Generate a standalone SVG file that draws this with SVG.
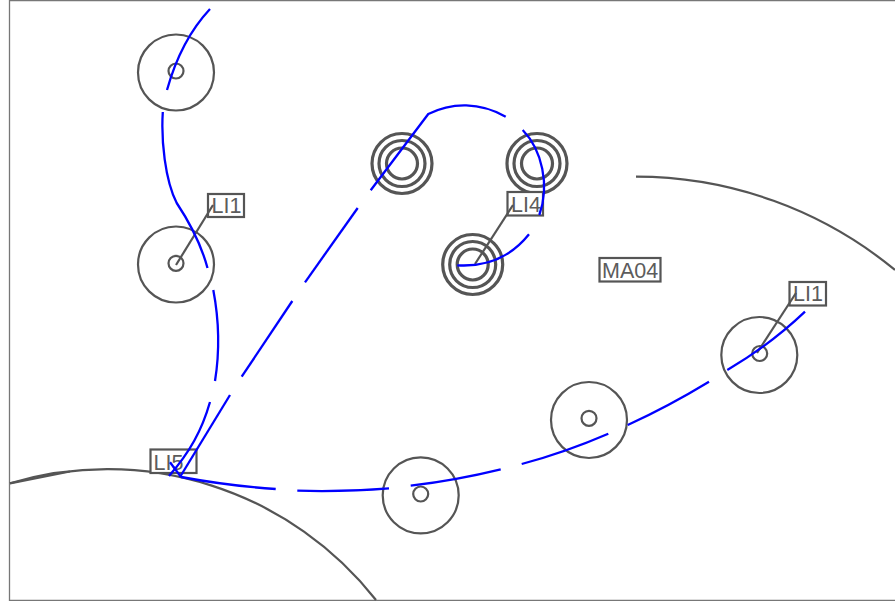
<svg xmlns="http://www.w3.org/2000/svg" width="895" height="601" viewBox="0 0 895 601">
<style>
.g{fill:none;stroke:#555;stroke-width:2.2}
.t{fill:none;stroke:#555;stroke-width:3.200}
.b{fill:none;stroke:#00f;stroke-width:2.300;stroke-linecap:butt}
.lb{fill:#fff;stroke:#555;stroke-width:2.200}
.l{fill:none;stroke:#555;stroke-width:2.200}
text{font-family:"Liberation Sans",Arial,sans-serif;font-size:21.500px;fill:#5c5c5c}
</style>
<rect width="895" height="601" fill="#fff"/>
<path d="M9.500 601V0.700H895" fill="none" stroke="#777" stroke-width="1.300"/>
<path d="M9.500 600.500H895" fill="none" stroke="#777" stroke-width="1.300"/>
<g id="outlines">
<path class="g" d="M636 176.700A407 407 0 0 1 895 270"/>
<path class="g" d="M10 483.300A341.700 341.700 0 0 1 376 600"/>
<path class="g" d="M10 483.300L70 471.500"/>
</g>
<g id="node-c1"><circle class="g" cx="176" cy="72.500" r="38"/><circle class="g" cx="176" cy="71" r="7.500"/></g>
<g id="node-c2"><circle class="g" cx="176" cy="264.500" r="38"/><circle class="g" cx="176" cy="263.300" r="7.500"/></g>
<g id="node-c3"><circle class="g" cx="759.300" cy="355" r="38"/><circle class="g" cx="759.700" cy="353.500" r="7.500"/></g>
<g id="node-c4"><circle class="g" cx="589" cy="420" r="38"/><circle class="g" cx="589" cy="418.300" r="7.500"/></g>
<g id="node-c5"><circle class="g" cx="420.700" cy="495.300" r="38"/><circle class="g" cx="420.700" cy="494" r="7.500"/></g>
<g id="node-t1"><circle class="t" cx="402" cy="163.500" r="30"/><circle class="t" cx="402" cy="163.500" r="23"/><circle class="t" cx="402" cy="163.500" r="15.500"/></g>
<g id="node-t2"><circle class="t" cx="537" cy="163.500" r="30"/><circle class="t" cx="537" cy="163.500" r="23"/><circle class="t" cx="537" cy="163.500" r="15.500"/></g>
<g id="node-t3"><circle class="t" cx="472.700" cy="264.500" r="30"/><circle class="t" cx="472.700" cy="264.500" r="23"/><circle class="t" cx="472.700" cy="264.500" r="15.500"/></g>
<g id="label-li1a"><rect class="lb" x="208" y="194" width="36" height="23"/><text x="211.500" y="213">LI1</text></g>
<g id="label-li4"><rect class="lb" x="507.500" y="192" width="35.500" height="23.500"/><text x="511" y="211.500">LI4</text></g>
<g id="label-li5"><rect class="lb" x="150.500" y="449.500" width="46" height="23.500"/><text x="153.500" y="469.500">LI5</text></g>
<g id="label-ma04"><rect class="lb" x="599.500" y="258" width="61" height="23.500"/><text x="602" y="278">MA04</text></g>
<g id="label-li1b"><rect class="lb" x="789.500" y="282" width="36.500" height="23.500"/><text x="793" y="301">LI1</text></g>
<g id="connectors">
<path class="l" d="M213 205L176 265"/>
<path class="l" d="M513 205L475 264"/>
<path class="l" d="M796 293L757 353"/>
<path class="b" d="M210 9Q181 40 167 90"/>
<path class="b" d="M162.800 112C161 140 165 180 176.700 203C186 217 200 240 207.500 268"/>
<path class="b" d="M213.300 290C219 320 220 350 215 381"/>
<path class="b" d="M210 402C202 430 190 452 169 476"/>
<path class="b" d="M230 395L180 477"/>
<path class="b" d="M241.700 376.700L292.300 301"/>
<path class="b" d="M305 282.300L357.700 208"/>
<path class="b" d="M370.700 190.300L428.300 114C452 102 480 102 505.700 116.700"/>
<path class="b" d="M522.700 130C542 150 550 185 539.300 215"/>
<path class="b" d="M529 234.300C510 258 485 267 457.300 265.300"/>
<path class="b" d="M170 462.300L181 477"/>
<path class="b" d="M181 477Q230 486 275.700 489"/>
<path class="b" d="M297.300 490.700Q345 492 389 488.300"/>
<path class="b" d="M410.700 485.700Q457 480 500.700 469.300"/>
<path class="b" d="M521.700 464Q566 452 608.300 433.700"/>
<path class="b" d="M627.700 425Q669 406 709 381.700"/>
<path class="b" d="M727.300 370Q770 345 805 311.700"/>
</g>
</svg>
